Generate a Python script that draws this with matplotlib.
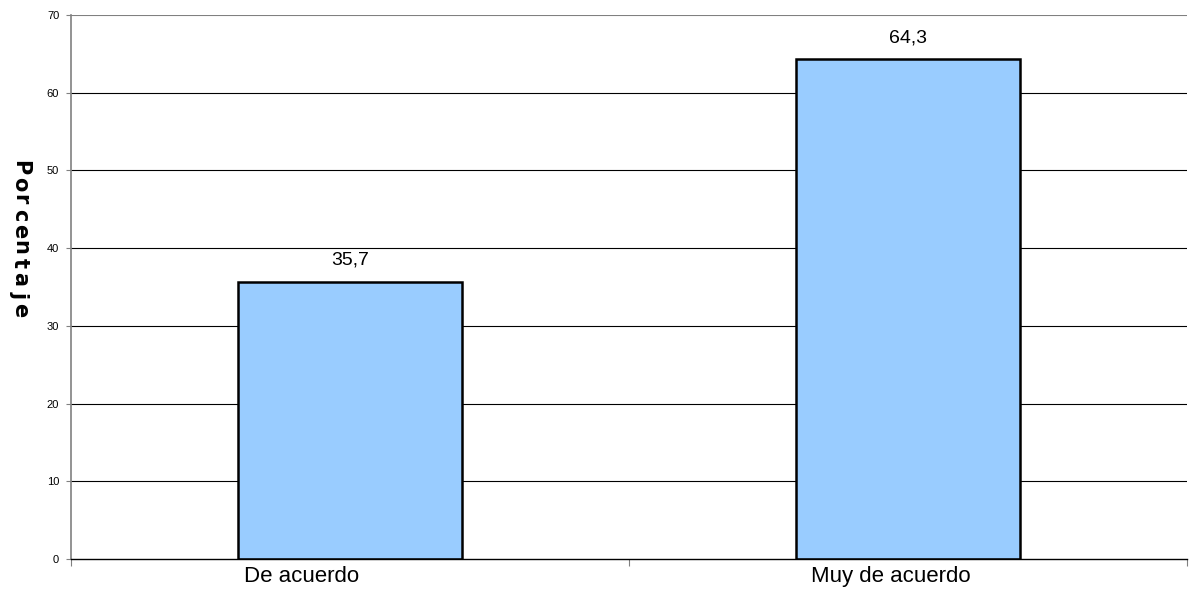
import matplotlib
matplotlib.use("Agg")
import matplotlib.pyplot as plt
from matplotlib.ticker import FixedLocator
from matplotlib.transforms import ScaledTranslation

categories = ["De acuerdo", "Muy de acuerdo"]
values = [35.7, 64.3]
value_labels = ["35,7", "64,3"]
yticks = [0, 10, 20, 30, 40, 50, 60, 70]
ylabel = "Porcentaje"

fig = plt.figure(figsize=(11.89, 5.91), dpi=100)
ax = fig.add_axes([71/1189, 32/591, 1116/1189, 544/591])

x = list(range(len(categories)))
ax.set_axisbelow(True)
for yv in yticks[1:]:
    ax.axhline(yv, color="#000000" if yv < 70 else "#808080", linewidth=0.8, zorder=0)

ax.bar(x, values, width=0.4, color="#99CCFF", edgecolor="black", linewidth=1.8, zorder=2)
for xi, v, lab in zip(x, values, value_labels):
    ax.text(xi, v + 2.2, lab, ha="center", va="baseline", fontsize=14, family="Liberation Sans")

ax.set_xlim(-0.5, 1.5)
ax.set_ylim(0, 70)
ax.set_yticks(yticks)
ax.set_yticklabels([str(t) for t in yticks], fontsize=8, family="Liberation Sans")
ax.tick_params(axis="y", direction="out", length=3.5, width=0.8, color="#808080", pad=5)

ax.set_xticks(x)
ax.set_xticklabels(categories, fontsize=16, family="Liberation Sans")
ax.tick_params(axis="x", which="major", length=0, pad=5)
offsets_px = [-48, -17]
for lbl, dx in zip(ax.get_xticklabels(), offsets_px):
    lbl.set_transform(lbl.get_transform() + ScaledTranslation(dx / 100, 0, fig.dpi_scale_trans))
ax.xaxis.set_minor_locator(FixedLocator([-0.5, 0.5, 1.5]))
ax.tick_params(axis="x", which="minor", direction="out", length=5, width=0.8, color="#808080")

for s in ["top", "right"]:
    ax.spines[s].set_visible(False)
ax.spines["left"].set_color("#808080")
ax.spines["left"].set_linewidth(1.2)
ax.spines["bottom"].set_color("black")
ax.spines["bottom"].set_linewidth(1.0)

# stacked, rotated characters for the y-axis title
y0, step = 168, 15.8
for i, ch in enumerate(ylabel):
    fig.text(20/1189, 1 - (y0 + i * step)/591, ch, rotation=270, ha="center", va="center",
             fontsize=15, fontweight="bold", family="DejaVu Sans")

fig.savefig("out.png", dpi=100)
